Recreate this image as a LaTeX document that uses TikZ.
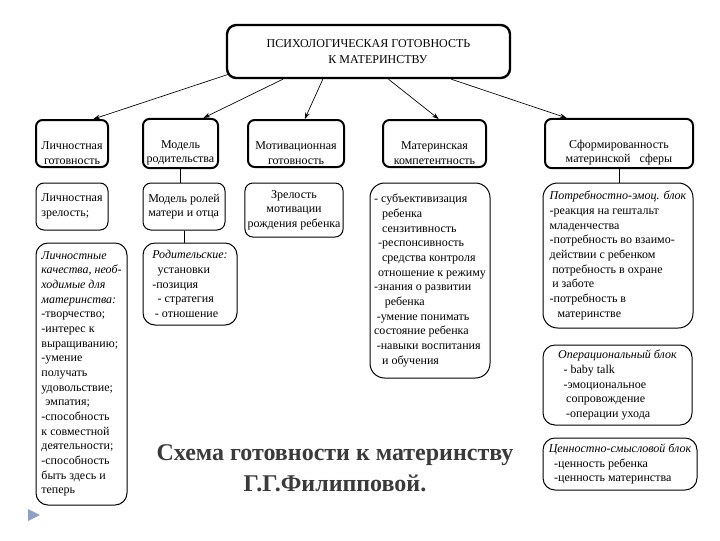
\documentclass[tikz,border=0pt]{standalone}
\usepackage{fontspec}
\setmainfont{Liberation Serif}
\usetikzlibrary{arrows.meta,calc}
\definecolor{captxt}{RGB}{58,58,58}
\definecolor{bullet}{RGB}{140,160,200}
\tikzset{every picture/.style={line width=0.75pt}}
\tikzset{
  head/.style={draw,line width=1.5pt,rounded corners=5pt,align=center,minimum height=35.25pt,inner sep=2pt,font=\fontsize{9}{11}\selectfont},
  blk/.style={draw,line width=0.75pt,rounded corners=6pt,align=left,inner sep=2pt,font=\fontsize{9}{11}\selectfont},
  lnk/.style={line width=0.5pt},
  arr/.style={line width=0.5pt,-{Stealth[length=5pt,width=3.5pt]}}
}

\begin{document}
\begin{tikzpicture}[x=0.75pt,y=0.75pt,yscale=-1,xscale=1]
	%set diagram to the 720 x 540 page
	\useasboundingbox (0,0) rectangle (720,540);
	
	%Shape: Rounded Rect [top]
	\node[draw,line width=1.8pt,rounded corners=7pt,minimum width=212.25pt,minimum height=39.75pt,align=center,font=\fontsize{9}{12}\selectfont] (top) at (368.5,51.5) {ПСИХОЛОГИЧЕСКАЯ ГОТОВНОСТЬ\\\hspace{14pt}К МАТЕРИНСТВУ};
	
	%Shape: Rounded Rect [row 1]
	\node[head,minimum width=54pt] (lich) at (72,143.5) {\rule{0pt}{20pt}Личностная\\готовность};
	\node[head,minimum width=56.25pt] (model) at (180.5,143.5) {\rule{0pt}{20pt}Модель\\родительства};
	\node[head,minimum width=72pt] (motiv) at (296,143.5) {\rule{0pt}{20pt}Мотивационная\\готовность};
	\node[head,minimum width=77.25pt] (komp) at (434.5,143.5) {\rule{0pt}{20pt}Материнская\\компетентность};
	\node[head,minimum width=111pt] (sfera) at (619,143.5) {\rule{0pt}{20pt}Сформированность\\материнской \ \ сферы};
	
	%Shape: Rounded Rect [row 2]
	\node[blk,minimum width=54pt,minimum height=35.25pt] (zrel) at (72,206.5) {Личностная\\зрелость;};
	\node[blk,minimum width=61.5pt,minimum height=35.25pt] (roli) at (184,206.5) {Модель ролей\\матери и отца};
	\node[blk,align=center,minimum width=69pt,minimum height=40.5pt] (zrmot) at (294,210) {Зрелость\\мотивации\\рождения ребенка};
	\node[blk,rounded corners=11pt,minimum width=90pt,minimum height=146.25pt] (komptxt) at (430,280.5) {- субъективизация\\\hspace{6pt}ребенка\\\hspace{6pt}сензитивность\\\hspace{3pt}-респонсивность\\\hspace{6pt}средства контроля\\\hspace{3pt}отношение к режиму\\-знания о развитии\\\hspace{8pt}ребенка\\\hspace{2pt}-умение понимать\\состояние ребенка\\\hspace{2pt}-навыки воспитания\\\hspace{6pt}и обучения};
	\node[blk,rounded corners=11pt,minimum width=112.5pt,minimum height=108.75pt] (potreb) at (618,255.5) {\textit{Потребностно-эмоц. блок}\\-реакция на гештальт\\младенчества\\-потребность во взаимо-\\действии с ребенком\\\hspace{2pt}потребность в охране\\\hspace{2pt}и заботе\\-потребность в\\\hspace{6pt}материнстве};
	
	%Shape: Rounded Rect [row 3]
	\node[blk,rounded corners=9pt,minimum width=68.25pt,minimum height=196.5pt] (kach) at (81.5,374) {\textit{Личностные}\\\textit{качества, необ-}\\\textit{ходимые для}\\\textit{материнства:}\\-творчество;\\-интерес к\\выращиванию;\\-умение\\получать\\удовольствие;\\\hspace{3pt}эмпатия;\\-способность\\к совместной\\деятельности;\\-способность\\быть здесь и\\теперь};
	\node[blk,rounded corners=9pt,minimum width=70.5pt,minimum height=61.5pt] (ustan) at (190,284) {\textit{Родительские:}\\\hspace{4pt}установки\\-позиция\\\hspace{4pt}- стратегия\\\hspace{2pt}- отношение};
	\node[blk,rounded corners=9pt,minimum width=111.75pt,minimum height=60pt] (oper) at (617.5,385) {\textit{Операциональный блок}\\\hspace{4pt}- baby talk\\\hspace{4pt}-эмоциональное\\\hspace{6pt}сопровождение\\\hspace{6pt}-операции ухода};
	\node[blk,rounded corners=9pt,minimum width=115.5pt,minimum height=39pt] (cenn) at (620,464) {\textit{Ценностно-смысловой блок}\\\hspace{4pt}-ценность ребенка\\\hspace{4pt}-ценность материнства};
	
	%arrows from the top box
	\draw[arr] ($(top.south west)+(3,-5)$) -- ($(lich.north west)!0.79!(lich.north east)$);
	\draw[arr] ($(top.south west)!0.2!(top.south east)$) -- ($(model.north west)!0.8!(model.north east)$);
	\draw[arr] ($(top.south west)!0.34!(top.south east)$) -- ($(motiv.north west)!0.59!(motiv.north east)$);
	\draw[arr] ($(top.south west)!0.57!(top.south east)$) -- ($(komp.north west)!0.54!(komp.north east)$);
	\draw[arr] ($(top.south west)!0.79!(top.south east)$) -- ($(sfera.north west)!0.15!(sfera.north east)$);
	
	%vertical links
	\draw[lnk] ($(lich.south)+(6,0)$) -- ($(lich.south)+(6,0)$ |- zrel.north);
	\draw[lnk] ($(zrel.south)+(5,0)$) -- ($(zrel.south)+(5,0)$ |- kach.north);
	\draw[lnk] (model.south) -- (model.south |- roli.north);
	\draw[lnk] (roli.south) -- (roli.south |- ustan.north);
	\draw[lnk] ($(motiv.south)+(-9,0)$) -- ($(motiv.south)+(-9,0)$ |- zrmot.north);
	\draw[lnk] ($(komp.south)+(-2,0)$) -- ($(komp.south)+(-2,0)$ |- komptxt.north);
	\draw[lnk] (sfera.south) -- (sfera.south |- potreb.north);
	\draw[lnk] ($(potreb.south)+(-8,0)$) -- ($(potreb.south)+(-8,0)$ |- oper.north);
	\draw[lnk] ($(oper.south)+(-6,0)$) -- ($(oper.south)+(-6,0)$ |- cenn.north);
	
	%caption
	\node[align=center,text=captxt,font=\fontsize{18}{23}\selectfont\bfseries] (cap) at (335,468) {Схема готовности к материнству\\Г.Г.Филипповой.};
	
	%Shape: Triangle [bullet]
	\fill[bullet] (28,509) -- (40,515) -- (28,521) -- cycle;
\end{tikzpicture}
\end{document}
